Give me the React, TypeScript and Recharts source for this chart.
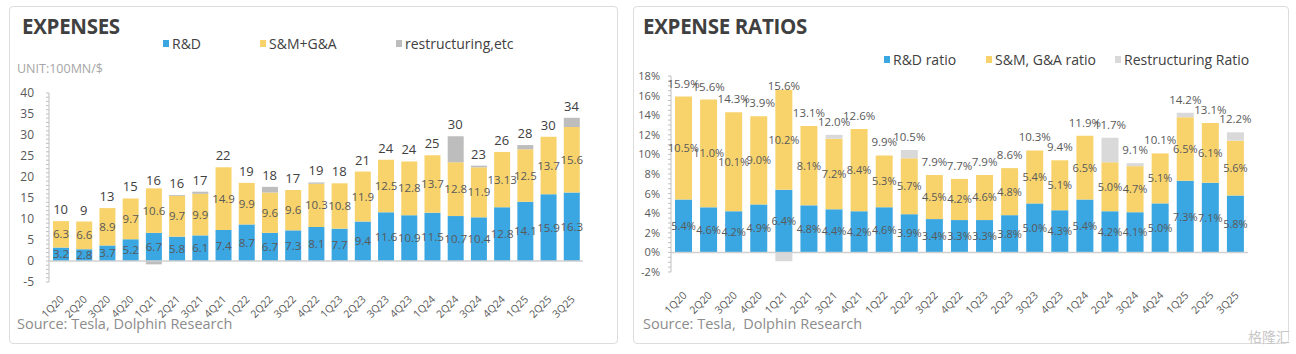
import React from "react";
import {
  ComposedChart,
  Bar,
  Line,
  XAxis,
  YAxis,
  ReferenceLine,
  LabelList,
} from "recharts";

const quarters = [
  "1Q20", "2Q20", "3Q20", "4Q20", "1Q21", "2Q21", "3Q21", "4Q21",
  "1Q22", "2Q22", "3Q22", "4Q22", "1Q23", "2Q23", "3Q23", "4Q23",
  "1Q24", "2Q24", "3Q24", "4Q24", "1Q25", "2Q25", "3Q25",
];

// expenses, 100MN $
const rdExp = [3.2, 2.8, 3.7, 5.2, 6.7, 5.8, 6.1, 7.4, 8.7, 6.7, 7.3, 8.1, 7.7, 9.4, 11.6, 10.9, 11.5, 10.7, 10.4, 12.8, 14.1, 15.9, 16.3];
const sgaExp = [6.3, 6.6, 8.9, 9.7, 10.6, 9.7, 9.9, 14.9, 9.9, 9.6, 9.6, 10.3, 10.8, 11.9, 12.5, 12.8, 13.7, 12.8, 11.9, 13.13, 12.5, 13.7, 15.6];
const otherExp = [0, 0, 0, 0, -0.8, 0.2, 0.5, 0, 0, 1.35, 0, 0.3, 0, 0, 0, 0, 0, 6.2, 0.4, 0, 1.0, 0, 2.2];
const expTotalLabels = [10, 9, 13, 15, 16, 16, 17, 22, 19, 18, 17, 19, 18, 21, 24, 24, 25, 30, 23, 26, 28, 30, 34];

// ratios, %
const rdRatio = [5.4, 4.6, 4.2, 4.9, 6.4, 4.8, 4.4, 4.2, 4.6, 3.9, 3.4, 3.3, 3.3, 3.8, 5.0, 4.3, 5.4, 4.2, 4.1, 5.0, 7.3, 7.1, 5.8];
const sgaRatio = [10.5, 11.0, 10.1, 9.0, 10.2, 8.1, 7.2, 8.4, 5.3, 5.7, 4.5, 4.2, 4.6, 4.8, 5.4, 5.1, 6.5, 5.0, 4.7, 5.1, 6.5, 6.1, 5.6];
const otherRatio = [0, 0, 0, 0, -0.9, 0, 0.4, 0, 0, 0.85, 0, 0, 0, 0, 0, 0, 0, 2.5, 0.3, 0, 0.45, 0, 0.85];
const ratioTotalLabels = ["15.9%", "15.6%", "14.3%", "13.9%", "15.6%", "13.1%", "12.0%", "12.6%", "9.9%", "10.5%", "7.9%", "7.7%", "7.9%", "8.6%", "10.3%", "9.4%", "11.9%", "11.7%", "9.1%", "10.1%", "14.2%", "13.1%", "12.2%"];

const expTicks = Array.from({ length: 46 }, (_, i) => i - 5);
const ratioTicks = Array.from({ length: 41 }, (_, i) => -2 + i * 0.5);

const BLUE = "#3AA6E2";
const YELLOW = "#F8D36C";
const GRAY_L = "#BDBDBD";
const GRAY_R = "#D9D9D9";
const FONT = "'Open Sans', sans-serif";
const TXT = "#595959";

const expData = quarters.map((q, i) => ({
  q,
  rd: rdExp[i],
  sga: sgaExp[i],
  other: otherExp[i],
  sum: rdExp[i] + sgaExp[i] + otherExp[i],
  lbl: expTotalLabels[i],
}));

const ratioData = quarters.map((q, i) => ({
  q,
  rd: rdRatio[i],
  sga: sgaRatio[i],
  other: otherRatio[i],
  sum: rdRatio[i] + sgaRatio[i] + otherRatio[i],
  lbl: ratioTotalLabels[i],
}));

const XTick = ({ x, y, payload, dy }: any) => (
  <text
    x={x + 4}
    y={y + dy}
    transform={`rotate(-45, ${x + 4}, ${y + dy})`}
    textAnchor="end"
    fontSize={10.5}
    fill={TXT}
    fontFamily={FONT}
  >
    {payload.value}
  </text>
);

const ExpYTick = ({ x, y, payload }: any) =>
  payload.value % 5 === 0 ? (
    <text x={x - 10} y={y + 4} textAnchor="end" fontSize={12} fill={TXT} fontFamily={FONT}>
      {payload.value}
    </text>
  ) : (
    <g />
  );

const RatioYTick = ({ x, y, payload }: any) =>
  Math.abs(payload.value % 2) < 0.001 ? (
    <text x={x - 6} y={y + 4} textAnchor="end" fontSize={11} fill={TXT} fontFamily={FONT}>
      {payload.value + "%"}
    </text>
  ) : (
    <g />
  );

const Legend = ({ items, style }: { items: [string, string, number][]; style: React.CSSProperties }) => (
  <div style={{ position: "absolute", ...style }}>
    {items.map(([name, color, left]) => (
      <div
        key={name}
        style={{
          position: "absolute",
          left,
          top: 0,
          whiteSpace: "nowrap",
          display: "flex",
          alignItems: "center",
          fontSize: 14,
          color: "#404040",
          fontFamily: FONT,
        }}
      >
        <span style={{ width: 6, height: 7, background: color, marginRight: 3, display: "inline-block" }} />
        {name}
      </div>
    ))}
  </div>
);

const panel: React.CSSProperties = {
  position: "absolute",
  top: 6,
  height: 338,
  border: "1px solid #DCDCDC",
  borderRadius: 4,
  boxSizing: "border-box",
};

const title: React.CSSProperties = {
  position: "absolute",
  top: 12,
  fontSize: 20.5,
  fontWeight: 700,
  color: "#404040",
  fontFamily: FONT,
  letterSpacing: -0.3,
};

const source: React.CSSProperties = {
  position: "absolute",
  top: 314,
  fontSize: 14.5,
  color: "#8C8C8C",
  fontFamily: FONT,
  whiteSpace: "pre",
};

export default function App() {
  return (
    <div style={{ position: "absolute", left: 0, top: 0, width: 1296, height: 354, background: "#fff", overflow: "hidden" }}>
      <div style={{ ...panel, left: 9, width: 609 }} />
      <div style={{ ...panel, left: 633, width: 656 }} />

      <div style={{ ...title, left: 22 }}>EXPENSES</div>
      <Legend
        style={{ left: 0, top: 34 }}
        items={[
          ["R&D", BLUE, 163],
          ["S&M+G&A", YELLOW, 260],
          ["restructuring,etc", GRAY_L, 396],
        ]}
      />
      <div style={{ position: "absolute", left: 17, top: 60, fontSize: 12.5, color: "#A6A6A6", fontFamily: FONT }}>
        UNIT:100MN/$
      </div>

      <div style={{ ...title, left: 643 }}>EXPENSE RATIOS</div>
      <Legend
        style={{ left: 0, top: 50 }}
        items={[
          ["R&D ratio", BLUE, 884],
          ["S&M, G&A ratio", YELLOW, 986],
          ["Restructuring Ratio", GRAY_R, 1115],
        ]}
      />

      <div style={{ position: "absolute", left: 0, top: 0 }}>
        <ComposedChart
          width={620}
          height={354}
          data={expData}
          stackOffset="sign"
          margin={{ top: 93, right: 37, bottom: 27, left: 19 }}
        >
          <XAxis
            dataKey="q"
            axisLine={false}
            tickLine={false}
            interval={0}
            height={45}
            tick={<XTick dy={10} />}
          />
          <YAxis
            width={30}
            domain={[-5, 40]}
            ticks={expTicks}
            interval={0}
            type="number"
            allowDataOverflow
            axisLine={{ stroke: "#BFBFBF" }}
            tickLine={{ stroke: "#BFBFBF" }}
            tickSize={3}
            tick={<ExpYTick />}
          />
          <ReferenceLine y={0} stroke="#D0D0D0" strokeWidth={1.5} />
          <Bar dataKey="rd" stackId="a" fill={BLUE} barSize={16} isAnimationActive={false}>
            <LabelList dataKey="rd" position="center" fontSize={11.5} fill={TXT} fontFamily={FONT} />
          </Bar>
          <Bar dataKey="sga" stackId="a" fill={YELLOW} barSize={16} isAnimationActive={false}>
            <LabelList dataKey="sga" position="center" fontSize={11.5} fill={TXT} fontFamily={FONT} />
          </Bar>
          <Bar dataKey="other" stackId="a" fill={GRAY_L} barSize={16} isAnimationActive={false} />
          <Line
            dataKey="sum"
            stroke="none"
            dot={false}
            activeDot={false}
            isAnimationActive={false}
          >
            <LabelList dataKey="lbl" position="top" offset={7} fontSize={13} fill="#404040" fontFamily={FONT} />
          </Line>
        </ComposedChart>
      </div>

      <div style={{ position: "absolute", left: 630, top: 0 }}>
        <ComposedChart
          width={640}
          height={354}
          data={ratioData}
          stackOffset="sign"
          margin={{ top: 76, right: 22, bottom: 37, left: 6 }}
        >
          <XAxis
            dataKey="q"
            axisLine={false}
            tickLine={false}
            interval={0}
            height={45}
            tick={<XTick dy={16} />}
          />
          <YAxis
            width={35}
            domain={[-2, 18]}
            ticks={ratioTicks}
            interval={0}
            type="number"
            allowDataOverflow
            axisLine={{ stroke: "#BFBFBF" }}
            tickLine={{ stroke: "#BFBFBF" }}
            tickSize={3}
            tick={<RatioYTick />}
          />
          <ReferenceLine y={0} stroke="#D0D0D0" strokeWidth={1.5} />
          <Bar dataKey="rd" stackId="a" fill={BLUE} barSize={17} isAnimationActive={false}>
            <LabelList
              dataKey="rd"
              position="center"
              fontSize={11}
              fill={TXT}
              fontFamily={FONT}
              formatter={(v: any) => Number(v).toFixed(1) + "%"}
            />
          </Bar>
          <Bar dataKey="sga" stackId="a" fill={YELLOW} barSize={17} isAnimationActive={false}>
            <LabelList
              dataKey="sga"
              position="center"
              fontSize={11}
              fill={TXT}
              fontFamily={FONT}
              formatter={(v: any) => Number(v).toFixed(1) + "%"}
            />
          </Bar>
          <Bar dataKey="other" stackId="a" fill={GRAY_R} barSize={17} isAnimationActive={false} />
          <Line
            dataKey="sum"
            stroke="none"
            dot={false}
            activeDot={false}
            isAnimationActive={false}
          >
            <LabelList dataKey="lbl" position="top" offset={9} fontSize={11.5} fill={TXT} fontFamily={FONT} />
          </Line>
        </ComposedChart>
      </div>

      <div style={{ ...source, left: 17 }}>Source: Tesla, Dolphin Research</div>
      <div style={{ ...source, left: 643 }}>Source: Tesla,  Dolphin Research</div>
      <div
        style={{
          position: "absolute",
          left: 1248,
          top: 326,
          fontSize: 14,
          color: "#C8C8C8",
          fontFamily: "'Noto Sans CJK SC', sans-serif",
        }}
      >
        格隆汇
      </div>
    </div>
  );
}
